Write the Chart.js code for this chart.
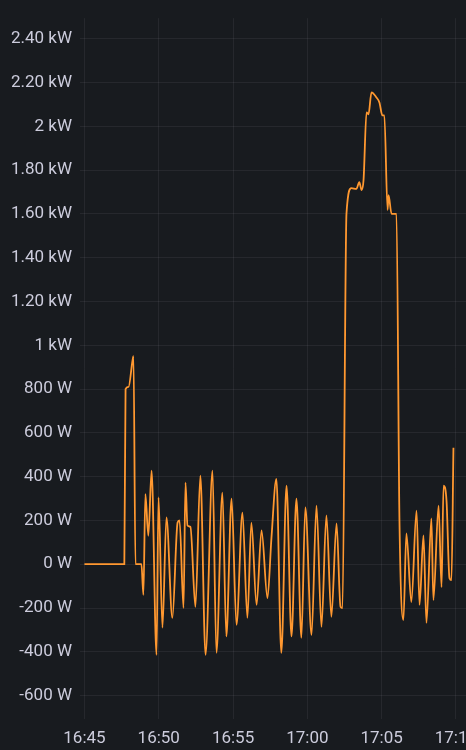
<!DOCTYPE html>
<html>
<head>
<meta charset="utf-8">
<script src="https://cdn.jsdelivr.net/npm/chart.js@4/dist/chart.umd.min.js"></script>
<style>
  html, body { margin: 0; padding: 0; background: #181b1f; overflow: hidden; }
  #wrap { width: 466px; height: 750px; overflow: hidden; }
</style>
</head>
<body>
<div id="wrap"><canvas id="chart" width="500" height="750"></canvas></div>
<script>
// readings (time of day, watts)
const times = [
  "16:45:00", "16:47:41", "16:47:46", "16:47:58", "16:48:14", "16:48:18", "16:48:26", "16:48:50",
  "16:48:58", "16:49:06", "16:49:18", "16:49:31", "16:49:51", "16:49:59", "16:50:15", "16:50:31",
  "16:50:55", "16:51:16", "16:51:24", "16:51:40", "16:51:48", "16:51:56", "16:52:08", "16:52:28",
  "16:52:48", "16:53:09", "16:53:37", "16:53:53", "16:54:17", "16:54:33", "16:54:54", "16:55:14",
  "16:55:38", "16:55:58", "16:56:14", "16:56:35", "16:56:55", "16:57:19", "16:57:35", "16:57:55",
  "16:58:15", "16:58:36", "16:58:56", "16:59:16", "16:59:36", "16:59:52", "17:00:17", "17:00:37",
  "17:00:57", "17:01:17", "17:01:37", "17:01:58", "17:02:14", "17:02:22", "17:02:38", "17:02:58",
  "17:03:18", "17:03:30", "17:03:39", "17:03:47", "17:03:59", "17:04:07", "17:04:19", "17:04:39",
  "17:04:51", "17:05:03", "17:05:11", "17:05:24", "17:05:28", "17:05:40", "17:06:00", "17:06:12",
  "17:06:28", "17:06:40", "17:07:00", "17:07:21", "17:07:33", "17:07:49", "17:08:01", "17:08:21",
  "17:08:29", "17:08:50", "17:09:02", "17:09:10", "17:09:22", "17:09:34", "17:09:42", "17:09:50"
]
const watts = [
  0, 0, 800, 810, 930, 950, 0, 0,
  -140, 320, 130, 427, -414, 305, -290, 214,
  -245, 190, 200, -200, 373, 177, 170, -195,
  405, -414, 427, -405, 327, -330, 300, -277,
  236, -245, 190, -186, 155, -155, 118, 390,
  -405, 359, -330, 300, -336, 260, -323, 268,
  -286, 223, -240, 186, -195, -200, 1600, 1718,
  1714, 1745, 1709, 1755, 2064, 2055, 2155, 2132,
  2109, 2050, 2050, 1618, 1686, 1600, 1600, 200,
  -255, 141, -173, 245, -186, 132, -268, 209,
  -164, 268, -105, 359, 291, -64, -73, 532
]

const xTickLabels = ["16:45", "16:50", "16:55", "17:00", "17:05", "17:10"]
const yTickValues = [-600, -400, -200, 0, 200, 400, 600, 800, 1000, 1200, 1400, 1600, 1800, 2000, 2200, 2400]
const yTickLabels = ["-600 W", "-400 W", "-200 W", "0 W", "200 W", "400 W", "600 W", "800 W",
  "1 kW", "1.20 kW", "1.40 kW", "1.60 kW", "1.80 kW", "2 kW", "2.20 kW", "2.40 kW"]

const toSec = (t) => {
  const [h, m, s] = t.split(":").map(Number)
  return h * 3600 + m * 60 + (s || 0)
}

const points = times.map((t, i) => ({ x: toSec(t), y: watts[i] }))
const xTickValues = xTickLabels.map(toSec)

const textColor = "#ccccdc"
const gridColor = "rgba(204, 204, 220, 0.08)"
const font = { family: "Roboto", size: 17 }

new Chart(document.getElementById("chart"), {
  type: "line",
  data: {
    datasets: [
      {
        data: points,
        borderColor: "#ff9830",
        borderWidth: 1.8,
        pointRadius: 0,
        cubicInterpolationMode: "monotone",
        fill: false,
      },
    ],
  },
  options: {
    responsive: false,
    animation: false,
    layout: { padding: { top: 16, left: 0, right: 0, bottom: 0 } },
    plugins: { legend: { display: false }, tooltip: { enabled: false } },
    scales: {
      x: {
        type: "linear",
        min: toSec("16:44:42"),
        max: toSec("17:12:58"),
        afterBuildTicks: (scale) => {
          scale.ticks = xTickValues.map((v) => ({ value: v }))
        },
        afterFit: (scale) => {
          scale.height = 31
        },
        ticks: {
          color: textColor,
          font: font,
          padding: 10,
          maxRotation: 0,
          autoSkip: false,
          callback: (value) => xTickLabels[xTickValues.indexOf(value)],
        },
        grid: { color: gridColor, drawTicks: false },
        border: { display: false },
      },
      y: {
        min: -707,
        max: 2494,
        afterBuildTicks: (scale) => {
          scale.ticks = yTickValues.map((v) => ({ value: v }))
        },
        afterFit: (scale) => {
          scale.width = 80
        },
        ticks: {
          color: textColor,
          font: font,
          padding: 8,
          callback: (value) => yTickLabels[yTickValues.indexOf(value)],
        },
        grid: { color: gridColor, drawTicks: false },
        border: { display: false },
      },
    },
  },
})
</script>
</body>
</html>
